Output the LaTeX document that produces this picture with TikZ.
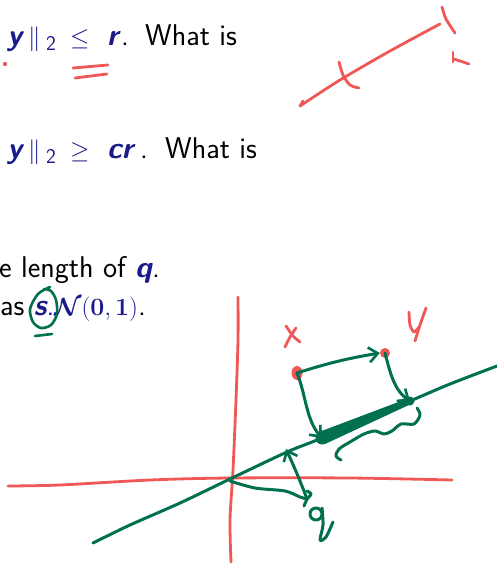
\documentclass[tikz,border=0pt]{standalone}
\usepackage{amsmath,bm}
\usetikzlibrary{arrows.meta,shapes.geometric}
\definecolor{navy}{RGB}{26,26,138}
\definecolor{ink}{RGB}{240,88,88}
\definecolor{pen}{RGB}{0,112,80}
\tikzset{
  txt/.style={anchor=base west,inner sep=0pt,font=\sffamily\fontsize{30}{36}\selectfont},
  mth/.style={txt,text=navy},
  sub/.style={anchor=base west,inner sep=0pt,text=navy,font=\sffamily\fontsize{21}{24}\selectfont},
  redpen/.style={draw=ink,line width=2.8pt,line cap=round,line join=round},
  greenpen/.style={draw=pen,line width=3pt,line cap=round,line join=round},
  barb/.style={-{Straight Barb[length=9pt,width=15pt,line width=2.6pt]}},
}
\newcommand{\bv}[1]{{\bfseries\itshape #1}}
\begin{document}
\begin{tikzpicture}[x=1pt,y=-1pt]
\useasboundingbox[fill=white] (0,0) rectangle (496,564);
% slide text, line 1
\node[mth] (ay) at (7,46) {\bv{y}};
\node[mth] (an) at (28,46) {$\|$};
\node[sub] (a2) at (46,51) {2};
\node[mth] (ale) at (70,46) {$\leq$};
\node[mth] (ar) at (107,46) {\bv{r}};
\node[txt] (adot) at (121,46) {.};
\node[txt] (aw) at (145,46) {What is};
% line 2
\node[mth] (by) at (7,159) {\bv{y}};
\node[mth] (bn) at (28,159) {$\|$};
\node[sub] (b2) at (46,164) {2};
\node[mth] (bge) at (70,159) {$\geq$};
\node[mth] (bcr) at (107,159) {\bv{cr}};
\node[txt] (bdot) at (140,159) {.};
\node[txt] (bw) at (165,159) {What is};
% lines 3 and 4
\node[txt] (l3) at (-1,277) {e length of \color{navy}\bv{q}\color{black}.};
\node[txt] (l4) at (0,315) {as \color{navy}\bv{s}.$\bm{\mathcal{N}}\mathbf{(0,1)}$\color{black}.};
% red annotations at top
\fill[ink] (5,64) circle (2.2);
\draw[redpen] (73,68) -- (108,65);
\draw[redpen] (75,78) -- (107,74);
\draw[redpen] plot[smooth] coordinates {(300,106) (340,80) (390,51) (440,24)};
\draw[redpen] (300,106) -- (303,101);
\draw[redpen] plot[smooth] coordinates {(339,62) (343,75) (350,85) (359,88)};
\draw[redpen] plot[smooth] coordinates {(442,7) (446,19) (455,33)};
\draw[redpen] (453,52) -- (453,62);
\draw[redpen] (454,59) -- (469,64);
% green circle around s
\draw[greenpen,line width=2.6pt] plot[smooth] coordinates {(50,287) (38,294) (30,309) (33,322) (41,328) (51,325) (57,314) (56,300) (51,291) (44,289)};
\draw[greenpen,line width=2.6pt] (35,336) -- (52,334);
% axes
\draw[redpen] plot[smooth] coordinates {(8,486) (60,485) (150,480) (230,478) (350,478) (452,480)};
\draw[redpen] plot[smooth] coordinates {(238,297) (238,340) (236,400) (233,470) (230,520) (231,562)};
% labels x and y
\draw[redpen] plot[smooth] coordinates {(286,326) (293,336) (300,342)};
\draw[redpen] plot[smooth] coordinates {(296,328) (290,337) (285,347)};
\draw[redpen] plot[smooth] coordinates {(409,312) (410,325) (414,332) (419,327)};
\draw[redpen] plot[smooth] coordinates {(426,308) (420,325) (415,341)};
% points
\node[fill=ink,ellipse,inner sep=0pt,minimum width=11pt,minimum height=14pt] (px) at (297,373) {};
\node[fill=ink,circle,inner sep=0pt,minimum size=10pt] (py) at (385,353) {};
% main green line
\draw[greenpen] plot[smooth] coordinates {(93,543) (130,525) (180,503) (230,479) (287,452) (322,438) (410,401) (450,384) (497,366)};
% projection segment
\coordinate (projx) at (322,438);
\coordinate (projy) at (410,401);
\fill[pen] (319,432) -- (409,398) -- (411,404) -- (325,444) -- cycle;
\fill[pen] (projx) circle (6.5);
\fill[pen] (projy) circle (4.5);
% arrows
\draw[greenpen,barb] (px.center) to[bend left=4] (py.west);
\draw[greenpen,barb] (px.center) .. controls (306,395) and (306,420) .. (projx);
\draw[greenpen,barb] (py.center) .. controls (390,372) and (394,390) .. (projy);
% brace under segment
\draw[greenpen] plot[smooth] coordinates {(417,408) (420,415) (414,424) (401,424) (392,431) (384,434) (375,431) (364,434) (350,442) (339,449) (336,456) (341,460)};
% q brace and arrow
\coordinate (qpt) at (286,449);
\coordinate (qend) at (307,499);
\draw[greenpen] plot[smooth] coordinates {(230,481) (255,488) (285,491) (300,497) (307,499)};
\draw[greenpen] plot[smooth] coordinates {(307,499) (311,494) (307,491)};
\draw[greenpen] (307,499) -- (304,506);
\draw[greenpen,barb] (qend) .. controls (300,480) and (292,462) .. (qpt);
% handwritten q
\draw[greenpen] (316,514) circle (6);
\draw[greenpen] plot[smooth] coordinates {(322,508) (323,525) (320,540) (326,537) (333,522)};
\end{tikzpicture}
\end{document}
